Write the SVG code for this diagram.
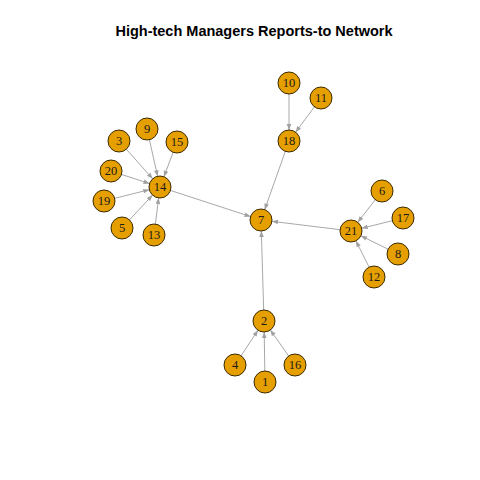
<svg xmlns="http://www.w3.org/2000/svg" width="480" height="480" viewBox="0 0 480 480">
<style>
.e{stroke:#a8a8a8;stroke-width:1;fill:none;marker-end:url(#ah)}
.n circle{fill:#E69F00;stroke:#3b2a00;stroke-width:1}
.n text{font-family:"Liberation Serif",serif;font-size:12.5px;fill:#1a1a1a;text-anchor:middle;dominant-baseline:central}
.t{font-family:"Liberation Sans",Arial,sans-serif;font-size:14.5px;font-weight:bold;text-anchor:middle}
</style>
<defs>
<marker id="ah" markerUnits="userSpaceOnUse" markerWidth="20" markerHeight="8" viewBox="0 -4 20 8" refX="17" refY="0" orient="auto" overflow="visible">
<path d="M0,-2.3 L6,0 L0,2.3 z" fill="#a0a0a0"/>
</marker>
</defs>
<rect width="480" height="480" fill="#fff"/>
<text class="t" x="254" y="36">High-tech Managers Reports-to Network</text>
<g id="connectors">
<line class="e" x1="119" y1="141" x2="160" y2="187"/>
<line class="e" x1="147" y1="129" x2="160" y2="187"/>
<line class="e" x1="177" y1="142" x2="160" y2="187"/>
<line class="e" x1="111" y1="171" x2="160" y2="187"/>
<line class="e" x1="104" y1="201" x2="160" y2="187"/>
<line class="e" x1="122" y1="228" x2="160" y2="187"/>
<line class="e" x1="154" y1="235" x2="160" y2="187"/>
<line class="e" x1="160" y1="187" x2="261" y2="220"/>
<line class="e" x1="289" y1="83" x2="289" y2="141"/>
<line class="e" x1="321" y1="98" x2="289" y2="141"/>
<line class="e" x1="289" y1="141" x2="261" y2="220"/>
<line class="e" x1="382" y1="191" x2="351" y2="231"/>
<line class="e" x1="403" y1="218" x2="351" y2="231"/>
<line class="e" x1="398" y1="254" x2="351" y2="231"/>
<line class="e" x1="374" y1="277" x2="351" y2="231"/>
<line class="e" x1="351" y1="231" x2="261" y2="220"/>
<line class="e" x1="264" y1="321" x2="261" y2="220"/>
<line class="e" x1="235" y1="365" x2="264" y2="321"/>
<line class="e" x1="265" y1="382" x2="264" y2="321"/>
<line class="e" x1="295" y1="365" x2="264" y2="321"/>
</g>
<g id="n14" class="n"><circle cx="160" cy="187" r="11"/><text x="160" y="187">14</text></g>
<g id="n3" class="n"><circle cx="119" cy="141" r="11"/><text x="119" y="141">3</text></g>
<g id="n9" class="n"><circle cx="147" cy="129" r="11"/><text x="147" y="129">9</text></g>
<g id="n15" class="n"><circle cx="177" cy="142" r="11"/><text x="177" y="142">15</text></g>
<g id="n20" class="n"><circle cx="111" cy="171" r="11"/><text x="111" y="171">20</text></g>
<g id="n19" class="n"><circle cx="104" cy="201" r="11"/><text x="104" y="201">19</text></g>
<g id="n5" class="n"><circle cx="122" cy="228" r="11"/><text x="122" y="228">5</text></g>
<g id="n13" class="n"><circle cx="154" cy="235" r="11"/><text x="154" y="235">13</text></g>
<g id="n7" class="n"><circle cx="261" cy="220" r="11"/><text x="261" y="220">7</text></g>
<g id="n18" class="n"><circle cx="289" cy="141" r="11"/><text x="289" y="141">18</text></g>
<g id="n10" class="n"><circle cx="289" cy="83" r="11"/><text x="289" y="83">10</text></g>
<g id="n11" class="n"><circle cx="321" cy="98" r="11"/><text x="321" y="98">11</text></g>
<g id="n21" class="n"><circle cx="351" cy="231" r="11"/><text x="351" y="231">21</text></g>
<g id="n6" class="n"><circle cx="382" cy="191" r="11"/><text x="382" y="191">6</text></g>
<g id="n17" class="n"><circle cx="403" cy="218" r="11"/><text x="403" y="218">17</text></g>
<g id="n8" class="n"><circle cx="398" cy="254" r="11"/><text x="398" y="254">8</text></g>
<g id="n12" class="n"><circle cx="374" cy="277" r="11"/><text x="374" y="277">12</text></g>
<g id="n2" class="n"><circle cx="264" cy="321" r="11"/><text x="264" y="321">2</text></g>
<g id="n4" class="n"><circle cx="235" cy="365" r="11"/><text x="235" y="365">4</text></g>
<g id="n1" class="n"><circle cx="265" cy="382" r="11"/><text x="265" y="382">1</text></g>
<g id="n16" class="n"><circle cx="295" cy="365" r="11"/><text x="295" y="365">16</text></g>
</svg>
